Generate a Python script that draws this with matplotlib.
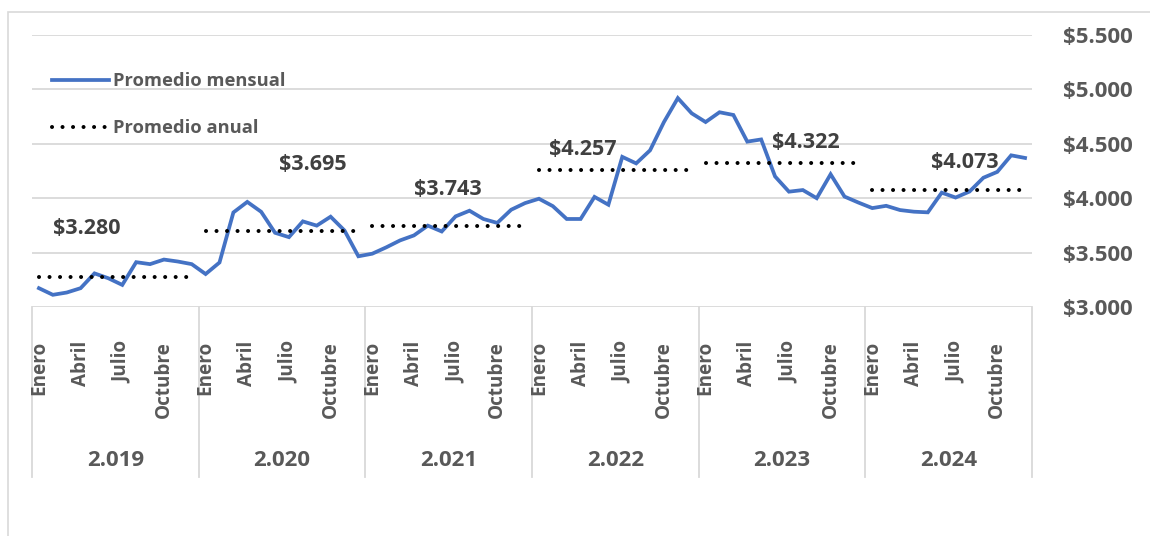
import matplotlib
matplotlib.use("Agg")
import matplotlib.pyplot as plt
import matplotlib.transforms as mtransforms
from matplotlib.patches import Rectangle

# Datos
anios = ["2.019", "2.020", "2.021", "2.022", "2.023", "2.024"]
meses_etiqueta = ["Enero", "Abril", "Julio", "Octubre"]
meses_idx = [0, 3, 6, 9]

promedio_mensual = [
    3173, 3112, 3133, 3173, 3309, 3264, 3203, 3412, 3394, 3436, 3418, 3394,  # 2019
    3303, 3409, 3869, 3966, 3875, 3682, 3642, 3787, 3748, 3830, 3703, 3466,  # 2020
    3490, 3548, 3612, 3658, 3748, 3694, 3833, 3885, 3809, 3773, 3894, 3955,  # 2021
    3995, 3927, 3809, 3809, 4012, 3940, 4380, 4320, 4440, 4700, 4920, 4780,  # 2022
    4700, 4790, 4765, 4520, 4540, 4200, 4060, 4075, 4000, 4220, 4015, 3960,  # 2023
    3909, 3930, 3891, 3876, 3870, 4051, 4006, 4061, 4188, 4242, 4394, 4370,  # 2024
]
promedio_anual = [3280, 3695, 3743, 4257, 4322, 4073]

# posicion de las etiquetas (indice de mes dentro del anio, desplazamiento vertical)
etiqueta_mes = [3.46, 7.73, 5.45, 3.17, 7.22, 6.67]
etiqueta_dy = [440, 616, 341, 190, 189, 256]

AZUL = "#4472C4"
GRIS_TEXTO = "#595959"
GRIS_LINEA = "#D9D9D9"

plt.rcParams["font.family"] = ["Open Sans", "DejaVu Sans"]
plt.rcParams["font.weight"] = "bold"

W, H = 1150, 536
fig = plt.figure(figsize=(W / 100, H / 100), dpi=100)
fig.patch.set_facecolor("white")

# borde del area del grafico
fig.patches.append(Rectangle((8 / W, -0.1), 1.2, 1.1 - 12 / H,
                             transform=fig.transFigure, fill=False,
                             edgecolor=GRIS_LINEA, linewidth=1.2))

ax = fig.add_axes([32 / W, 1 - 307 / H, 1000 / W, 272 / H])
n = len(promedio_mensual)
x = [i + 0.5 for i in range(n)]

ax.plot(x, promedio_mensual, color=AZUL, linewidth=2.7,
        solid_joinstyle="miter", label="Promedio mensual", zorder=3)

for k, v in enumerate(promedio_anual):
    xs = [12 * k + 0.5, 12 * k + 11.5]
    ax.plot(xs, [v, v], color="black", linewidth=2.9,
            linestyle=(0, (0.01, 2.6)), dash_capstyle="round",
            label="Promedio anual" if k == 0 else None, zorder=4)
    ax.text(12 * k + etiqueta_mes[k] + 0.5, v + etiqueta_dy[k],
            "$" + f"{v:,}".replace(",", "."),
            ha="center", va="center", fontsize=15.5, color="#404040",
            fontweight="bold", zorder=5)

ax.set_xlim(0, n)
ax.set_ylim(3000, 5500)
ax.set_yticks(range(3000, 5501, 500))
ax.set_yticklabels(["$" + f"{t:,}".replace(",", ".") for t in range(3000, 5501, 500)])
ax.yaxis.tick_right()
ax.tick_params(axis="y", length=0, pad=22, labelsize=16, labelcolor=GRIS_TEXTO)
ax.grid(axis="y", color=GRIS_LINEA, linewidth=1.3)
ax.set_axisbelow(True)
for s in ax.spines.values():
    s.set_visible(False)

ticks = [12 * k + m + 0.5 for k in range(len(anios)) for m in meses_idx]
ax.set_xticks(ticks)
ax.set_xticklabels(meses_etiqueta * len(anios), rotation=90)
ax.tick_params(axis="x", length=0, pad=24.5, labelsize=13.6, labelcolor=GRIS_TEXTO)

# separadores y etiquetas de anio
trans = mtransforms.blended_transform_factory(ax.transData, ax.transAxes)
for k in range(len(anios) + 1):
    ax.plot([12 * k, 12 * k], [0, -170 / 272], color=GRIS_LINEA, linewidth=1.3,
            transform=trans, clip_on=False, zorder=0.5)
for k, a in enumerate(anios):
    ax.text(12 * k + 6, -154 / 272, a, transform=trans, ha="center", va="center",
            fontsize=16, color=GRIS_TEXTO, fontweight="bold")

leg = ax.legend(loc="upper left", bbox_to_anchor=(0.02, 0.864), frameon=False,
                fontsize=13.2, handlelength=3.1, handletextpad=0.25,
                labelspacing=1.6, borderaxespad=0, borderpad=0)
for t in leg.get_texts():
    t.set_color(GRIS_TEXTO)

fig.savefig("out.png", dpi=100, facecolor="white")
